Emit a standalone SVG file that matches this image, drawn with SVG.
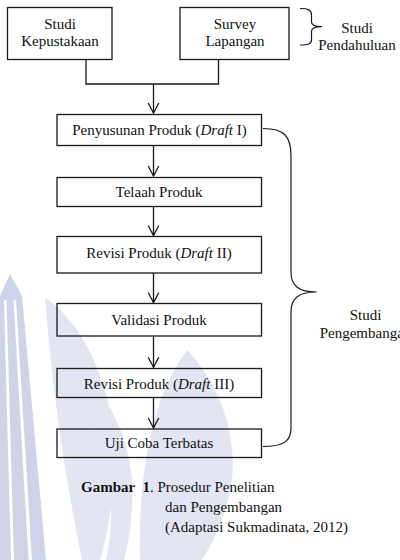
<svg xmlns="http://www.w3.org/2000/svg" width="400" height="560" viewBox="0 0 400 560">
  <style>
    .box { fill: none; stroke: #1a1a1a; stroke-width: 1.3; }
    .lbl { font-family: "Liberation Serif", "Times New Roman", serif; font-size: 15px; fill: #111; text-anchor: middle; }
    .cap { font-family: "Liberation Serif", "Times New Roman", serif; font-size: 15px; fill: #111; }
    .wire { fill: none; stroke: #1a1a1a; stroke-width: 1.3; }
    .brace { fill: none; stroke: #1a1a1a; stroke-width: 1.2; }
    .wm { fill: #e3e5f3; }
    .wm2 { fill: #cfd3ea; }
  </style>
  <defs>
    <marker id="arr" viewBox="-12 -7 13 14" refX="0" refY="0" markerWidth="13" markerHeight="14" markerUnits="userSpaceOnUse" orient="auto">
      <path d="M-10,-5.3 L0,0 L-10,5.3" fill="none" stroke="#1a1a1a" stroke-width="1.3"/>
    </marker>
  </defs>
  <rect width="400" height="560" fill="#ffffff"/>

  <!-- faint watermark -->
  <g id="watermark">
    <path class="wm" d="M45,298 C80,320 112,380 114,450 C115,500 106,540 100,560 L82,560 C70,500 55,420 45,298 Z"/>
    <path class="wm" d="M70,362 C105,390 128,430 132,480 C134,515 128,545 124,560 L106,560 C115,520 112,470 95,430 C86,408 76,385 70,362 Z"/>
    <path class="wm" d="M187,350 C225,390 242,450 228,500 C220,530 208,550 202,560 L140,560 C138,480 150,400 187,350 Z"/>
    <path class="wm2" d="M10,274 L22,296 L46,560 L0,560 L0,296 Z"/>
    <path fill="#ffffff" d="M4,300 L6.5,300 L14,560 L11,560 Z"/>
    <path fill="#ffffff" d="M13.5,300 L16,300 L32,560 L28.5,560 Z"/>
  </g>

  <g id="connectors">
    <path class="wire" d="M86,59.5 L86,84 L218.5,84 L218.5,59.5"/>
    <line class="wire" x1="153.5" y1="84" x2="153.5" y2="113" marker-end="url(#arr)"/>
    <line class="wire" x1="153.5" y1="145.7" x2="153.5" y2="176" marker-end="url(#arr)"/>
    <line class="wire" x1="153.5" y1="206.7" x2="153.5" y2="235.5" marker-end="url(#arr)"/>
    <line class="wire" x1="153.5" y1="273" x2="153.5" y2="302.5" marker-end="url(#arr)"/>
    <line class="wire" x1="153.5" y1="336" x2="153.5" y2="367.3" marker-end="url(#arr)"/>
    <line class="wire" x1="153.5" y1="397.7" x2="153.5" y2="428" marker-end="url(#arr)"/>
    <path class="brace" d="M300,8.5 C308,8.5 311.5,10 311.5,15 L311.5,22 C311.5,25.5 315,26.7 322,26.7 C315,26.7 311.5,28 311.5,31.5 L311.5,40 C311.5,44 308,45 300,45"/>
    <path class="brace" d="M263,128.5 C284,128.5 291,136 291,156 L291,272 C291,286 299,292 316.5,292 C299,292 291,298 291,312 L291,428 C291,441 284,446.5 263,446.5"/>
  </g>

  <g id="studi-kepustakaan">
    <rect class="box" x="7.5" y="7.5" width="104.5" height="52"/>
    <text class="lbl" x="60" y="28.5">Studi</text>
    <text class="lbl" x="60" y="46">Kepustakaan</text>
  </g>
  <g id="survey-lapangan">
    <rect class="box" x="180" y="7.5" width="109" height="52"/>
    <text class="lbl" x="235" y="28.5">Survey</text>
    <text class="lbl" x="235" y="46">Lapangan</text>
  </g>
  <g id="studi-pendahuluan">
    <text class="lbl" x="357" y="33">Studi</text>
    <text class="lbl" x="357" y="49.5">Pendahuluan</text>
  </g>
  <g id="penyusunan">
    <rect class="box" x="57" y="114.5" width="204.5" height="31"/>
    <text class="lbl" x="159.5" y="135">Penyusunan Produk (<tspan font-style="italic">Draft</tspan> I)</text>
  </g>
  <g id="telaah">
    <rect class="box" x="57" y="177.5" width="204.5" height="29"/>
    <text class="lbl" x="159" y="197">Telaah Produk</text>
  </g>
  <g id="revisi-2">
    <rect class="box" x="57" y="236.5" width="204.5" height="36.5"/>
    <text class="lbl" x="159" y="257.5">Revisi Produk (<tspan font-style="italic">Draft</tspan> II)</text>
  </g>
  <g id="validasi">
    <rect class="box" x="57" y="303.5" width="204.5" height="32.5"/>
    <text class="lbl" x="159" y="324.5">Validasi Produk</text>
  </g>
  <g id="revisi-3">
    <rect class="box" x="57" y="368.5" width="204.5" height="29"/>
    <text class="lbl" x="159" y="388.5">Revisi Produk (<tspan font-style="italic">Draft</tspan> III)</text>
  </g>
  <g id="uji-coba">
    <rect class="box" x="57" y="429" width="204.5" height="28.5"/>
    <text class="lbl" x="159" y="448">Uji Coba Terbatas</text>
  </g>
  <g id="studi-pengembangan">
    <text class="lbl" x="365.5" y="320">Studi</text>
    <text class="lbl" x="365.5" y="337.5">Pengembangan</text>
  </g>

  <g id="caption">
    <text class="cap" x="81" y="491.5" xml:space="preserve"><tspan font-weight="bold">Gambar  1</tspan>. Prosedur Penelitian</text>
    <text class="cap" x="165" y="511.5">dan Pengembangan</text>
    <text class="cap" x="165" y="531.5">(Adaptasi Sukmadinata, 2012)</text>
  </g>
</svg>
